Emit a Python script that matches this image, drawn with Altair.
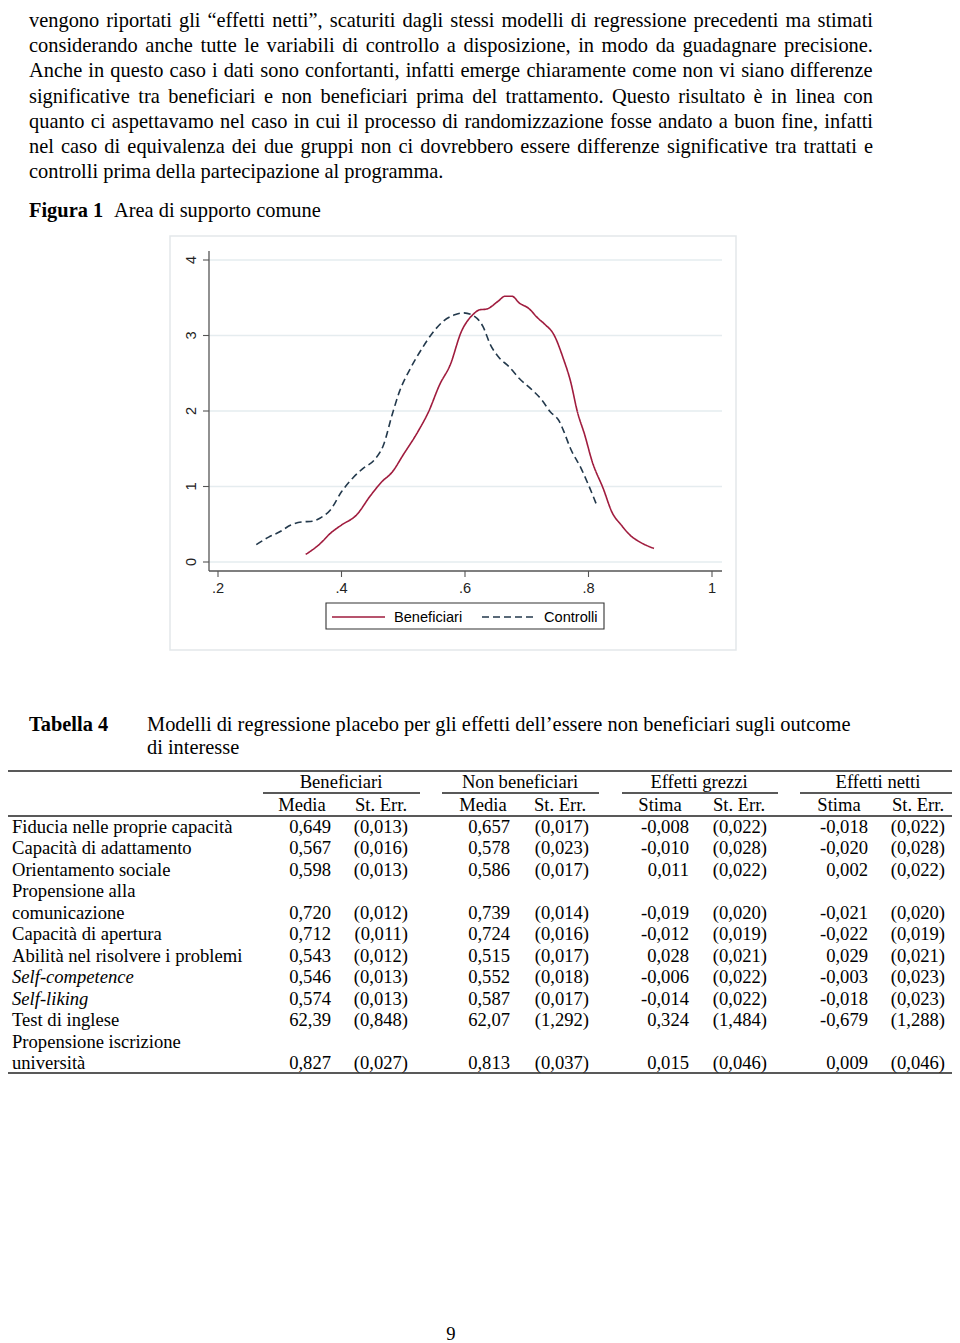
import altair as alt
import pandas as pd

# ---------------- text of the page ----------------
PARAGRAPH = [
    "vengono riportati gli \u201ceffetti netti\u201d, scaturiti dagli stessi modelli di regressione precedenti ma stimati",
    "considerando anche tutte le variabili di controllo a disposizione, in modo da guadagnare precisione.",
    "Anche in questo caso i dati sono confortanti, infatti emerge chiaramente come non vi siano differenze",
    "significative tra beneficiari e non beneficiari prima del trattamento. Questo risultato \u00e8 in linea con",
    "quanto ci aspettavamo nel caso in cui il processo di randomizzazione fosse andato a buon fine, infatti",
    "nel caso di equivalenza dei due gruppi non ci dovrebbero essere differenze significative tra trattati e",
    "controlli prima della partecipazione al programma.",
]
FIG_NUM = "Figura 1"
FIG_TITLE = "Area di supporto comune"

# ---------------- density curves ----------------
series_names = ["Beneficiari", "Controlli"]
ben_x = [0.342, 0.365, 0.382, 0.400, 0.424, 0.447, 0.465, 0.482, 0.500, 0.524, 0.541, 0.559,
         0.576, 0.594, 0.612, 0.624, 0.635, 0.653, 0.665, 0.676, 0.688, 0.703, 0.718, 0.729,
         0.744, 0.759, 0.771, 0.782, 0.794, 0.806, 0.824, 0.838, 0.853, 0.868, 0.882, 0.906]
ben_y = [0.10, 0.24, 0.38, 0.49, 0.62, 0.88, 1.06, 1.19, 1.42, 1.73, 1.99, 2.35,
         2.61, 3.05, 3.27, 3.34, 3.35, 3.45, 3.52, 3.52, 3.43, 3.36, 3.23, 3.15,
         3.01, 2.70, 2.39, 1.99, 1.68, 1.33, 0.97, 0.66, 0.49, 0.35, 0.27, 0.18]
ctl_x = [0.262, 0.282, 0.300, 0.318, 0.335, 0.353, 0.365, 0.382, 0.400, 0.418, 0.435, 0.453,
         0.468, 0.482, 0.494, 0.512, 0.529, 0.547, 0.565, 0.582, 0.597, 0.612, 0.629, 0.641,
         0.656, 0.671, 0.688, 0.706, 0.724, 0.738, 0.753, 0.759, 0.771, 0.788, 0.800, 0.813]
ctl_y = [0.23, 0.33, 0.40, 0.49, 0.53, 0.54, 0.58, 0.69, 0.93, 1.11, 1.24, 1.35,
         1.55, 1.95, 2.26, 2.57, 2.81, 3.03, 3.19, 3.27, 3.30, 3.27, 3.12, 2.88,
         2.70, 2.59, 2.43, 2.30, 2.15, 1.99, 1.86, 1.75, 1.50, 1.24, 1.02, 0.76]
x_ticks = [0.2, 0.4, 0.6, 0.8, 1.0]
x_tick_labels = [".2", ".4", ".6", ".8", "1"]
y_ticks = [0, 1, 2, 3, 4]
y_tick_labels = ["0", "1", "2", "3", "4"]

# ---------------- table ----------------
TAB_NUM = "Tabella 4"
TAB_TITLE = ["Modelli di regressione placebo per gli effetti dell\u2019essere non beneficiari sugli outcome",
             "di interesse"]
groups = ["Beneficiari", "Non beneficiari", "Effetti grezzi", "Effetti netti"]
subheads = ["Media", "St. Err.", "Media", "St. Err.", "Stima", "St. Err.", "Stima", "St. Err."]
label_lines = ["Fiducia nelle proprie capacit\u00e0", "Capacit\u00e0 di adattamento", "Orientamento sociale",
               "Propensione alla", "comunicazione", "Capacit\u00e0 di apertura",
               "Abilit\u00e0 nel risolvere i problemi", "Self-competence", "Self-liking",
               "Test di inglese", "Propensione iscrizione", "universit\u00e0"]
italic_lines = [7, 8]
value_lines = [0, 1, 2, 4, 5, 6, 7, 8, 9, 11]
ben_media = [0.649, 0.567, 0.598, 0.720, 0.712, 0.543, 0.546, 0.574, 62.39, 0.827]
ben_se = [0.013, 0.016, 0.013, 0.012, 0.011, 0.012, 0.013, 0.013, 0.848, 0.027]
non_media = [0.657, 0.578, 0.586, 0.739, 0.724, 0.515, 0.552, 0.587, 62.07, 0.813]
non_se = [0.017, 0.023, 0.017, 0.014, 0.016, 0.017, 0.018, 0.017, 1.292, 0.037]
grezzi = [-0.008, -0.010, 0.011, -0.019, -0.012, 0.028, -0.006, -0.014, 0.324, 0.015]
grezzi_se = [0.022, 0.028, 0.022, 0.020, 0.019, 0.021, 0.022, 0.022, 1.484, 0.046]
netti = [-0.018, -0.020, 0.002, -0.021, -0.022, 0.029, -0.003, -0.018, -0.679, 0.009]
netti_se = [0.022, 0.028, 0.022, 0.020, 0.019, 0.021, 0.023, 0.023, 1.288, 0.046]
PAGE_NUM = "9"

# ---------------- layout (pixels on the page) ----------------
W, H = 944, 1335
def px(v):
    return v - 8

SERIF = "Liberation Serif"
SANS = "Liberation Sans"
FS_BODY = 20.4
FS_TAB = 18.6
FS_STATA = 14.6
RED = "#a01c3e"
NAVY = "#23394c"

IDX = alt.Scale(domain=[0, W], range=[0, W], zero=False, nice=False)
IDY = alt.Scale(domain=[0, H], range=[0, H], zero=False, nice=False)

TIMES_W = {' ': 250, ',': 250, '.': 250, '\u201c': 444, '\u201d': 444, '\u2019': 333, '\u00e8': 444,
           '\u00e0': 444, 'a': 444, 'b': 500, 'c': 444, 'd': 500, 'e': 444, 'f': 333, 'g': 500,
           'h': 500, 'i': 278, 'j': 278, 'k': 500, 'l': 278, 'm': 778, 'n': 500, 'o': 500,
           'p': 500, 'q': 500, 'r': 333, 's': 389, 't': 278, 'u': 500, 'v': 500, 'w': 722,
           'x': 500, 'y': 500, 'z': 444, 'A': 722, 'Q': 722, 'C': 667}

def tw(s, size):
    return sum(TIMES_W.get(c, 500) for c in s) * size / 1000.0

layers = []

# ---- justified paragraph ----
L_LEFT, L_RIGHT = px(29), px(873)
FIRST_BASE, LAST_BASE = 27, 178          # first line kept fully inside the page frame
n_lines = len(PARAGRAPH)
words = []
for i, line in enumerate(PARAGRAPH):
    parts = line.split(" ")
    yb = px(FIRST_BASE + (LAST_BASE - FIRST_BASE) * i / (n_lines - 1))
    if i == n_lines - 1:
        words.append(dict(yb=yb, x=L_LEFT, w=line))
        continue
    natural = sum(tw(p, FS_BODY) for p in parts)
    gap = (L_RIGHT - L_LEFT - natural) / (len(parts) - 1)
    x = L_LEFT
    for p in parts:
        words.append(dict(yb=yb, x=x, w=p))
        x += tw(p, FS_BODY) + gap
layers.append(
    alt.Chart(pd.DataFrame(words)).mark_text(align="left", baseline="alphabetic", font=SERIF,
                                             fontSize=FS_BODY, color="black")
    .encode(x=alt.X("x:Q", scale=IDX, axis=None), y=alt.Y("yb:Q", scale=IDY, axis=None),
            text="w:N")
)

def text_at(txt, x, y, size, align="left", bold=False, italic=False, font=SERIF, color="black"):
    kw = dict(align=align, baseline="alphabetic", font=font, fontSize=size, color=color)
    if bold:
        kw["fontWeight"] = "bold"
    if italic:
        kw["fontStyle"] = "italic"
    return alt.Chart(pd.DataFrame({"t": [txt]})).mark_text(**kw).encode(
        x=alt.value(x), y=alt.value(y), text="t:N")

layers.append(text_at(FIG_NUM, px(29), px(217), FS_BODY, bold=True))
layers.append(text_at(FIG_TITLE, px(114), px(217), FS_BODY))

# ---- Stata-like figure ----
XS = alt.Scale(domain=[0.2, 1.0], range=[px(218), px(712)], zero=False, nice=False)
YS = alt.Scale(domain=[0, 4], range=[px(562), px(260)], zero=False, nice=False)
ONE = pd.DataFrame({"a": [0]})

layers.append(
    alt.Chart(ONE).mark_rect(fill="white", stroke="#e3e8ea", strokeWidth=1.5)
    .encode(x=alt.value(px(170)), x2=alt.value(px(736)), y=alt.value(px(236)), y2=alt.value(px(650)))
)
yt = pd.DataFrame({"v": y_ticks, "lab": y_tick_labels})
xt = pd.DataFrame({"v": x_ticks, "lab": x_tick_labels})
layers.append(
    alt.Chart(yt).mark_rule(color="#e5ecef", strokeWidth=1.4)
    .encode(y=alt.Y("v:Q", scale=YS, axis=None), x=alt.value(px(209)), x2=alt.value(px(722)))
)

curves = pd.concat([
    pd.DataFrame({"x": ben_x, "y": ben_y, "serie": series_names[0]}),
    pd.DataFrame({"x": ctl_x, "y": ctl_y, "serie": series_names[1]}),
])
DASHES = [[1, 0], [7, 4]]
COLORS = [RED, NAVY]
layers.append(
    alt.Chart(curves).mark_line(strokeWidth=1.6, interpolate="monotone")
    .encode(
        x=alt.X("x:Q", scale=XS, axis=None),
        y=alt.Y("y:Q", scale=YS, axis=None),
        color=alt.Color("serie:N", scale=alt.Scale(domain=series_names, range=COLORS), legend=None),
        strokeDash=alt.StrokeDash("serie:N", scale=alt.Scale(domain=series_names, range=DASHES),
                                  legend=None),
    )
)
AX = "#555555"
layers.append(alt.Chart(ONE).mark_rule(color=AX, strokeWidth=1.3)
              .encode(x=alt.value(px(209)), y=alt.value(px(251)), y2=alt.value(px(571))))
layers.append(alt.Chart(ONE).mark_rule(color=AX, strokeWidth=1.3)
              .encode(x=alt.value(px(209)), x2=alt.value(px(722)), y=alt.value(px(571))))
layers.append(alt.Chart(yt).mark_rule(color=AX, strokeWidth=1.1)
              .encode(y=alt.Y("v:Q", scale=YS, axis=None), x=alt.value(px(203)), x2=alt.value(px(209))))
layers.append(alt.Chart(xt).mark_rule(color=AX, strokeWidth=1.1)
              .encode(x=alt.X("v:Q", scale=XS, axis=None), y=alt.value(px(571)), y2=alt.value(px(577))))
layers.append(alt.Chart(yt).mark_text(font=SANS, fontSize=FS_STATA, color="#222222", angle=270,
                                      align="center", baseline="middle")
              .encode(y=alt.Y("v:Q", scale=YS, axis=None), x=alt.value(px(192)), text="lab:N"))
layers.append(alt.Chart(xt).mark_text(font=SANS, fontSize=FS_STATA, color="#222222",
                                      align="center", baseline="alphabetic")
              .encode(x=alt.X("v:Q", scale=XS, axis=None), y=alt.value(px(593)), text="lab:N"))

# legend box (Stata style)
layers.append(alt.Chart(ONE).mark_rect(fill="white", stroke="#333333", strokeWidth=1.1)
              .encode(x=alt.value(px(326)), x2=alt.value(px(604)), y=alt.value(px(603)), y2=alt.value(px(629))))
leg_sym_x = [(332, 385), (482, 537)]
leg_lab_x = [394, 544]
for name, col, dash, (a, b), lx in zip(series_names, COLORS, DASHES, leg_sym_x, leg_lab_x):
    layers.append(alt.Chart(ONE).mark_rule(color=col, strokeWidth=1.6, strokeDash=dash)
                  .encode(x=alt.value(px(a)), x2=alt.value(px(b)), y=alt.value(px(617))))
    layers.append(text_at(name, px(lx), px(622), FS_STATA, font=SANS))

# ---- table ----
layers.append(text_at(TAB_NUM, px(29), px(731), FS_BODY, bold=True))
layers.append(text_at(TAB_TITLE[0], px(147), px(731), FS_BODY))
layers.append(text_at(TAB_TITLE[1], px(147), px(754), FS_BODY))

rules = pd.DataFrame({
    "x1": [px(3), px(263), px(442), px(622), px(800), px(3), px(3)],
    "x2": [px(957), px(420), px(599), px(778), px(957), px(957), px(957)],
    "y": [px(771), px(793), px(793), px(793), px(793), px(816), px(1073)],
    "w": [1.6, 1.3, 1.3, 1.3, 1.3, 1.3, 1.6],
})
layers.append(alt.Chart(rules).mark_rule(color="#222222")
              .encode(x=alt.X("x1:Q", scale=IDX, axis=None), x2="x2:Q",
                      y=alt.Y("y:Q", scale=IDY, axis=None),
                      strokeWidth=alt.StrokeWidth("w:Q", scale=None, legend=None)))

group_centers = [341, 520, 699, 878]
sub_centers = [302, 381, 483, 560, 660, 739, 839, 918]
for g, c in zip(groups, group_centers):
    layers.append(text_at(g, px(c), px(788), FS_TAB, align="center"))
for s, c in zip(subheads, sub_centers):
    layers.append(text_at(s, px(c), px(811), FS_TAB, align="center"))

ROWS = alt.Scale(domain=[0, 11], range=[px(833), px(1069)], zero=False, nice=False)
normal_lab = pd.DataFrame({"r": [i for i in range(len(label_lines)) if i not in italic_lines],
                           "t": [l for i, l in enumerate(label_lines) if i not in italic_lines]})
ital_lab = pd.DataFrame({"r": italic_lines, "t": [label_lines[i] for i in italic_lines]})
layers.append(alt.Chart(normal_lab).mark_text(align="left", baseline="alphabetic", font=SERIF,
                                              fontSize=FS_TAB, color="black")
              .encode(x=alt.value(px(12)), y=alt.Y("r:Q", scale=ROWS, axis=None), text="t:N"))
layers.append(alt.Chart(ital_lab).mark_text(align="left", baseline="alphabetic", font=SERIF,
                                            fontSize=FS_TAB, fontStyle="italic", color="black")
              .encode(x=alt.value(px(12)), y=alt.Y("r:Q", scale=ROWS, axis=None), text="t:N"))

def fmt(v):
    s = f"{v:.2f}" if abs(v) >= 10 else f"{v:.3f}"
    return s.replace(".", ",")

def fmt_se(v):
    return "(" + fmt(v) + ")"

columns = [
    (ben_media, fmt, 331), (ben_se, fmt_se, 408),
    (non_media, fmt, 510), (non_se, fmt_se, 589),
    (grezzi, fmt, 689), (grezzi_se, fmt_se, 767),
    (netti, fmt, 868), (netti_se, fmt_se, 945),
]
for vals, f, right in columns:
    df = pd.DataFrame({"r": value_lines, "t": [f(v) for v in vals]})
    layers.append(alt.Chart(df).mark_text(align="right", baseline="alphabetic", font=SERIF,
                                          fontSize=FS_TAB, color="black")
                  .encode(x=alt.value(px(right)), y=alt.Y("r:Q", scale=ROWS, axis=None), text="t:N"))

layers.append(text_at(PAGE_NUM, px(451), px(1340), FS_TAB, align="center"))

chart = (
    alt.layer(*layers)
    .resolve_scale(x="independent", y="independent")
    .properties(width=W, height=H, padding=0, autosize=alt.AutoSizeParams(type="none"),
                background="white")
    .configure_view(stroke=None)
)
chart.save("out.html", embed_options={"renderer": "svg", "actions": False})
